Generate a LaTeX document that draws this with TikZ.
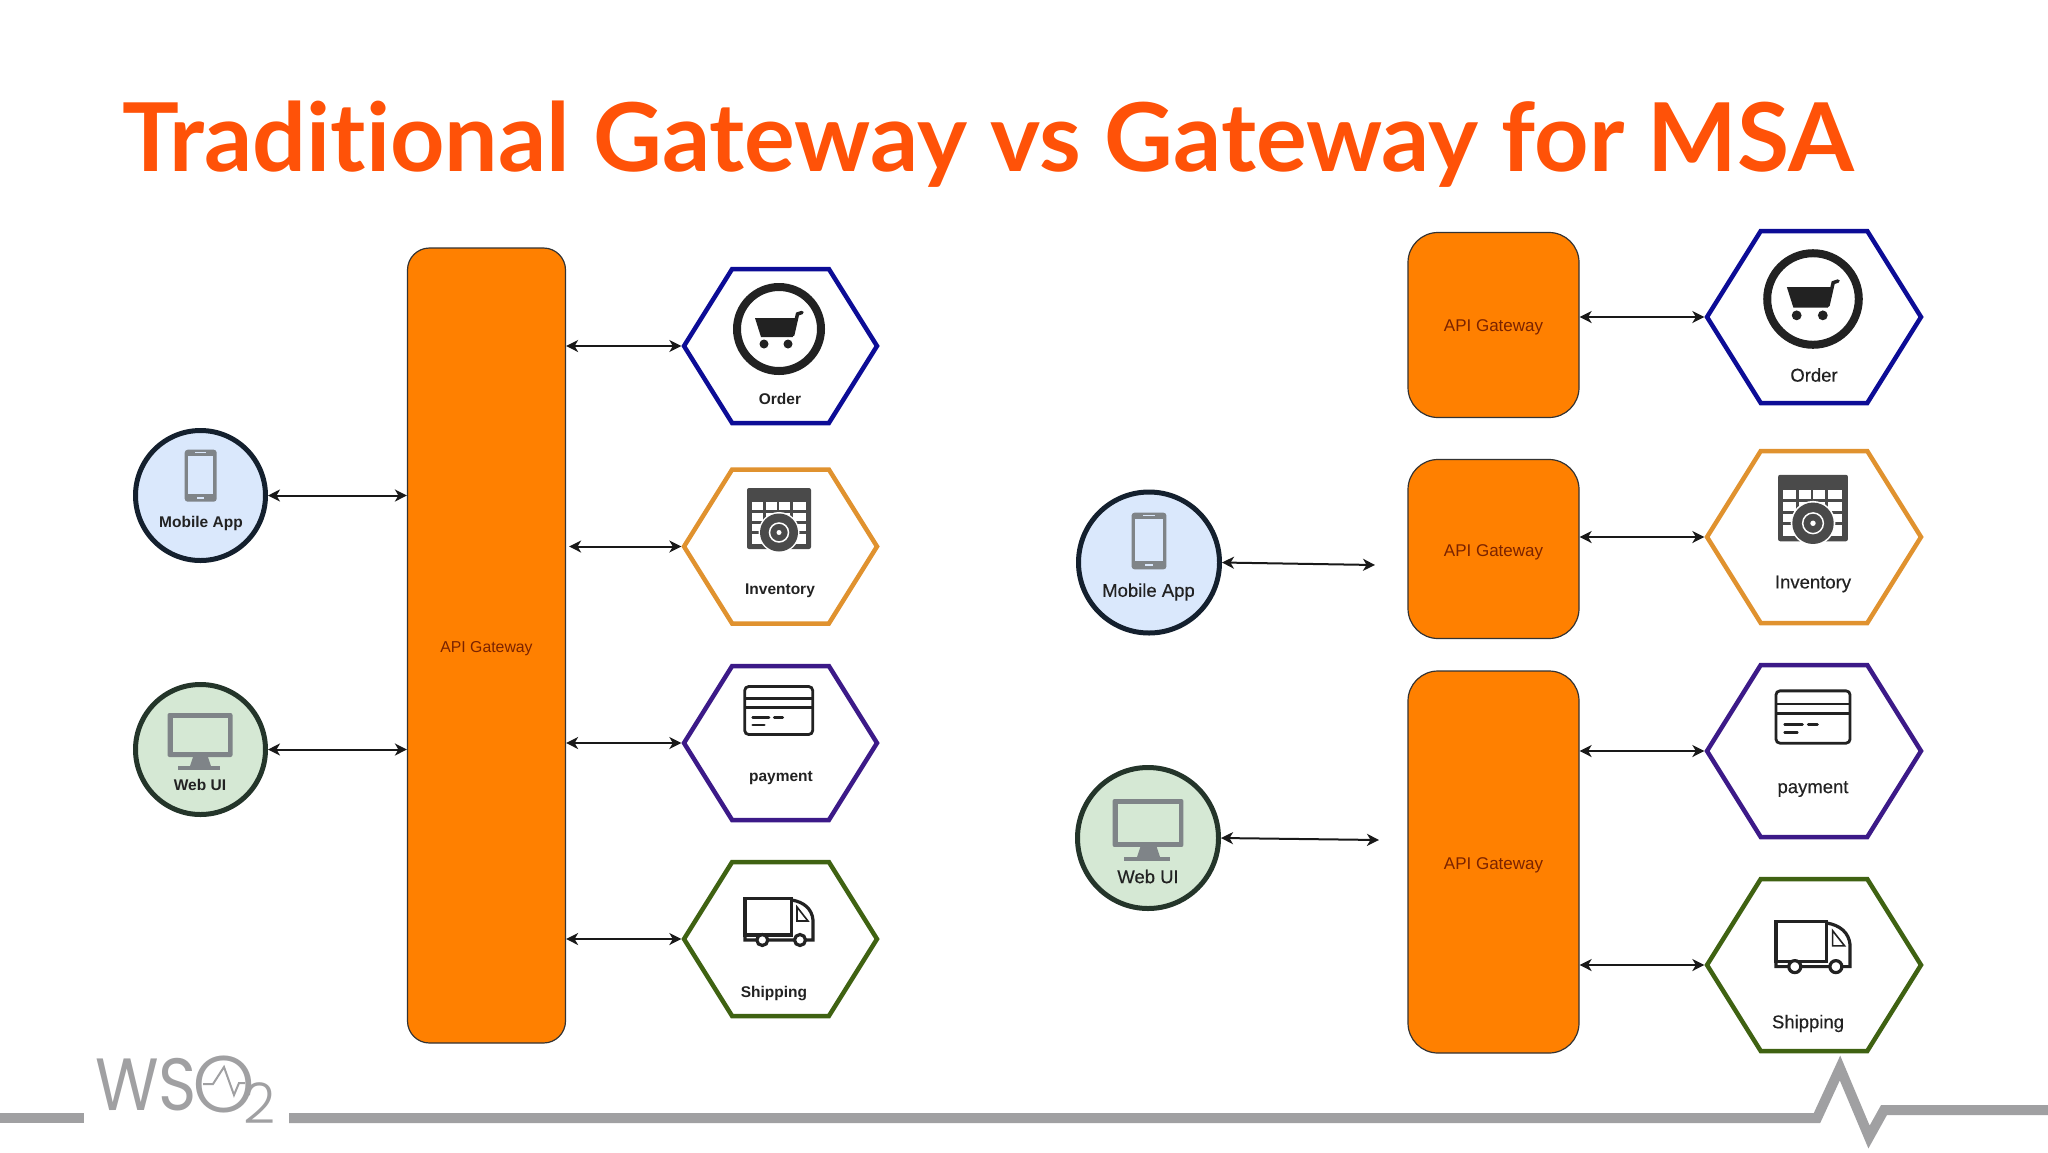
\documentclass[tikz,border=0pt]{standalone}
\usepackage{fontspec}
\setmainfont{Liberation Sans}
\newfontfamily\titlefont{Lato}[Ligatures=CommonOff]
\newfontfamily\logofont{Poppins}[UprightFont=* Light]
\newfontfamily\logowsfont{Poppins}
\newfontfamily\semifont{Liberation Sans}[FakeBold=0.35]
\usepackage{tikz}
\usetikzlibrary{arrows.meta,shapes.symbols}

\definecolor{gateorange}{HTML}{FF8000}
\definecolor{gatetext}{HTML}{7A2300}
\definecolor{titleorange}{HTML}{FF5208}
\definecolor{footgray}{HTML}{A0A0A2}
\definecolor{iconblack}{HTML}{222222}
\definecolor{icongray}{HTML}{7F8488}
\definecolor{caldark}{HTML}{4A4A4A}
\definecolor{mobilefill}{HTML}{DAE8FC}
\definecolor{webfill}{HTML}{D5E8D4}
\definecolor{mobileline}{HTML}{14202E}
\definecolor{webline}{HTML}{24352A}
\definecolor{ordline}{HTML}{0C0C96}
\definecolor{invline}{HTML}{E0922F}
\definecolor{payline}{HTML}{3C1A88}
\definecolor{shipline}{HTML}{3F6212}

\tikzset{
    pics/carticon/.style={code={
        \draw [iconblack, line width=8pt, fill=white] (0,0) circle [radius=42];
        \fill [iconblack] (-24,-11) -- (17,-11) -- (13.7,8) -- (-18,8) -- cycle;
        \draw [iconblack, line width=3.5pt, line cap=round] (13.7,6) -- (18.5,-15) -- (23,-16.5);
        \fill [iconblack] (-15,15) circle [radius=4.5];
        \fill [iconblack] (9,15) circle [radius=4.5];
    }},
    pics/calicon/.style={code={
        \fill [caldark, rounded corners=2pt] (-32,-30.5) rectangle (32,30.5);
        \fill [white] (-27.3,-16.8) rectangle (27,25.5);
        \draw [caldark, line width=2.5pt] (-14.4,-16.8) -- (-14.4,25.5);
        \draw [caldark, line width=2.5pt] (-1,-16.8) -- (-1,25.5);
        \draw [caldark, line width=2.5pt] (12.4,-16.8) -- (12.4,25.5);
        \draw [caldark, line width=2.5pt] (-27.3,-6.8) -- (27,-6.8);
        \draw [caldark, line width=2.5pt] (-27.3,4) -- (27,4);
        \draw [caldark, line width=2.5pt] (-27.3,14) -- (27,14);
        \fill [white] (0,14) circle [radius=20.5];
        \fill [caldark] (0,14) circle [radius=19];
        \draw [white, line width=1.5pt] (0,14) circle [radius=9.5];
        \fill [white] (0,14) circle [radius=2.5];
    }},
    pics/cardicon/.style={code={
        \draw [iconblack, line width=2.8pt, rounded corners=4pt] (-34,-24) rectangle (34,24);
        \draw [iconblack, line width=2.8pt] (-34,-12) -- (34,-12);
        \draw [iconblack, line width=2.8pt] (-34,-3) -- (34,-3);
        \draw [iconblack, line width=2.8pt, line cap=round] (-26,6.8) -- (-9.7,6.8);
        \draw [iconblack, line width=2.8pt, line cap=round] (-4.4,6.8) -- (4,6.8);
        \draw [iconblack, line width=2.8pt, line cap=round] (-26,14.5) -- (-14.4,14.5);
    }},
    pics/truckicon/.style={code={
        \draw [iconblack, line width=3.2pt] (-34,-23.7) rectangle (12.7,13);
        \draw [iconblack, line width=3.2pt] (-34,13) -- (-34,18) -- (34,18) -- (34,-2) .. controls (33,-13) and (25,-20) .. (12.7,-22);
        \draw [iconblack, line width=1.6pt] (18,-15) -- (29,-1) -- (18,-1) -- cycle;
        \draw [iconblack, line width=3.2pt, fill=white] (-16.7,18) circle [radius=5.5];
        \draw [iconblack, line width=3.2pt, fill=white] (21,18) circle [radius=5.5];
    }},
    pics/phoneicon/.style={code={
        \fill [icongray, rounded corners=3pt] (-16,-26) rectangle (16,26);
        \fill [mobilefill] (-12.5,-20) rectangle (12.5,18);
        \fill [mobilefill] (-5.5,-24) rectangle (5.5,-22.5);
        \fill [mobilefill] (-3.5,21) rectangle (3.5,23);
    }},
    pics/monicon/.style={code={
        \fill [icongray, rounded corners=2pt] (-32.5,-22) rectangle (32.5,22);
        \fill [webfill] (-27.5,-17) rectangle (28,17);
        \fill [icongray] (-7,22) -- (8,22) -- (11,31) -- (-10,31) -- cycle;
        \fill [icongray] (-22,31) rectangle (20,35);
    }},
}

\begin{document}
\begin{tikzpicture}[x=1pt,y=-1pt,
    mygate/.style={draw=black!80,line width=1.2pt,fill=gateorange,text=gatetext,minimum width=171pt,rounded corners=30pt,font=\fontsize{17}{20}\selectfont},
    myhex/.style={draw,fill=white,line width=4.5pt,shape=signal,signal to=east and west,signal pointer angle=116,minimum width=214pt,minimum height=172pt,inner sep=0pt},
    myuser/.style={draw,circle,line width=5pt,minimum size=141pt,inner sep=0pt},
    smalltext/.style={text=iconblack,font=\fontsize{15.5}{18}\selectfont\bfseries},
    bigtext/.style={text=iconblack,font=\fontsize{18.5}{22}\semifont},
    myarrow/.style={{Stealth[length=12pt,width=12pt,inset=3.5pt]}-{Stealth[length=12pt,width=12pt,inset=3.5pt]},line width=2pt,black!90}]

    \useasboundingbox (0,0) rectangle (2048,1152);

    %title
    \node[anchor=base west,inner sep=0pt,text=titleorange,font=\fontsize{95}{100}\titlefont\bfseries] (title) at (122,171) {Traditional Gateway vs Gateway for MSA};

    %footer line
    \draw [footgray, line width=10pt] (0,1118) -- (84,1118);
    \draw [footgray, line width=10pt, miter limit=10] (289,1118) -- (1817,1118) -- (1840,1068) -- (1869,1137) -- (1884,1110) -- (2048,1110);

    %logo
    \node[anchor=base west,inner sep=0pt,text=footgray,font=\fontsize{74}{80}\logowsfont,transform shape,xscale=.88] (logoWS) at (95,1110) {WS};
    \node[anchor=base west,inner sep=0pt,text=footgray,font=\fontsize{80}{84}\logofont] (logoO) at (192,1112) {O};
    \node[anchor=base west,inner sep=0pt,text=footgray,font=\fontsize{56}{60}\logofont] (logo2) at (243,1123) {2};
    \draw [footgray, line width=2pt] (203,1084) -- (213,1084) -- (224,1067) -- (234,1095) -- (239,1083) -- (245,1083);

    %left gateway
    \node[mygate,minimum width=158pt,minimum height=795pt,rounded corners=22pt] (gwL) at (486.5,645.5) {};
    \node[text=gatetext,font=\fontsize{15.8}{18}\selectfont] (gwLtext) at (486.5,648.5) {API Gateway};

    %left users
    \node[myuser,minimum size=130pt,draw=mobileline,fill=mobilefill] (mobL) at (200.5,495.5) {};
    \node[myuser,minimum size=130pt,draw=webline,fill=webfill] (webL) at (200.5,749.5) {};
    \pic at (200.7,475.7) {phoneicon};
    \pic at (200,735) {monicon};
    \node[smalltext] (mobLtext) at (201,523) {Mobile App};
    \node[smalltext] (webLtext) at (200,784.5) {Web UI};

    %left services
    \node[myhex,minimum width=193pt,minimum height=154pt,draw=ordline] (ordL) at (780.5,346) {};
    \node[myhex,minimum width=193pt,minimum height=154pt,draw=invline] (invL) at (780.5,546.5) {};
    \node[myhex,minimum width=193pt,minimum height=154pt,draw=payline] (payL) at (780.5,743) {};
    \node[myhex,minimum width=193pt,minimum height=154pt,draw=shipline] (shipL) at (780.5,939) {};
    \pic at (779,329) {carticon};
    \pic at (779,518.5) {calicon};
    \pic at (778.7,710.5) {cardicon};
    \pic at (779,922) {truckicon};
    \node[smalltext] (ordLtext) at (780,399) {Order};
    \node[smalltext] (invLtext) at (780,590.5) {Inventory};
    \node[smalltext] (payLtext) at (781,778.5) {payment};
    \node[smalltext] (shipLtext) at (774,993.5) {Shipping};

    %left arrows
    \draw [myarrow] (mobL.east) -- (mobL.east -| gwL.west);
    \draw [myarrow] (webL.east) -- (webL.east -| gwL.west);
    \draw [myarrow] (ordL.west -| gwL.east) -- (ordL.west);
    \draw [myarrow, shorten <=3pt] (invL.west -| gwL.east) -- (invL.west);
    \draw [myarrow] (payL.west -| gwL.east) -- (payL.west);
    \draw [myarrow] (shipL.west -| gwL.east) -- (shipL.west);

    %right gateways
    \node[mygate,minimum height=185pt] (gwA) at (1493.5,325) {};
    \node[mygate,minimum height=179pt] (gwB) at (1493.5,549) {};
    \node[mygate,minimum height=382pt] (gwC) at (1493.5,862) {};
    \node[text=gatetext,font=\fontsize{17}{20}\selectfont] (gwAtext) at (1493.5,327) {API Gateway};
    \node[text=gatetext,font=\fontsize{17}{20}\selectfont] (gwBtext) at (1493.5,552) {API Gateway};
    \node[text=gatetext,font=\fontsize{17}{20}\selectfont] (gwCtext) at (1493.5,865) {API Gateway};

    %right users
    \node[myuser,draw=mobileline,fill=mobilefill] (mobR) at (1149,562.5) {};
    \node[myuser,draw=webline,fill=webfill] (webR) at (1148,838) {};
    \pic[scale=1.09] at (1149,541) {phoneicon};
    \pic[scale=1.09] at (1148,823) {monicon};
    \node[bigtext] (mobRtext) at (1148.5,592) {Mobile App};
    \node[bigtext] (webRtext) at (1148,876.5) {Web UI};

    %right services
    \node[myhex,draw=ordline] (ordR) at (1814,317) {};
    \node[myhex,draw=invline] (invR) at (1814,537) {};
    \node[myhex,draw=payline] (payR) at (1814,751) {};
    \node[myhex,draw=shipline] (shipR) at (1814,965) {};
    \pic[scale=1.09] at (1813,299) {carticon};
    \pic[scale=1.09] at (1813,508) {calicon};
    \pic[scale=1.09] at (1813,717) {cardicon};
    \pic[scale=1.09] at (1813,947) {truckicon};
    \node[bigtext] (ordRtext) at (1814,375) {Order};
    \node[bigtext] (invRtext) at (1813,584) {Inventory};
    \node[bigtext] (payRtext) at (1813,789) {payment};
    \node[bigtext] (shipRtext) at (1808,1023.5) {Shipping};

    %right arrows
    \coordinate (mobRend) at (1375,565);
    \coordinate (webRend) at (1379,840);
    \draw [myarrow] (mobR.east) -- (mobRend);
    \draw [myarrow] (webR.east) -- (webRend);
    \draw [myarrow] (ordR.west -| gwA.east) -- (ordR.west);
    \draw [myarrow] (invR.west -| gwB.east) -- (invR.west);
    \draw [myarrow] (payR.west -| gwC.east) -- (payR.west);
    \draw [myarrow] (shipR.west -| gwC.east) -- (shipR.west);
\end{tikzpicture}
\end{document}
